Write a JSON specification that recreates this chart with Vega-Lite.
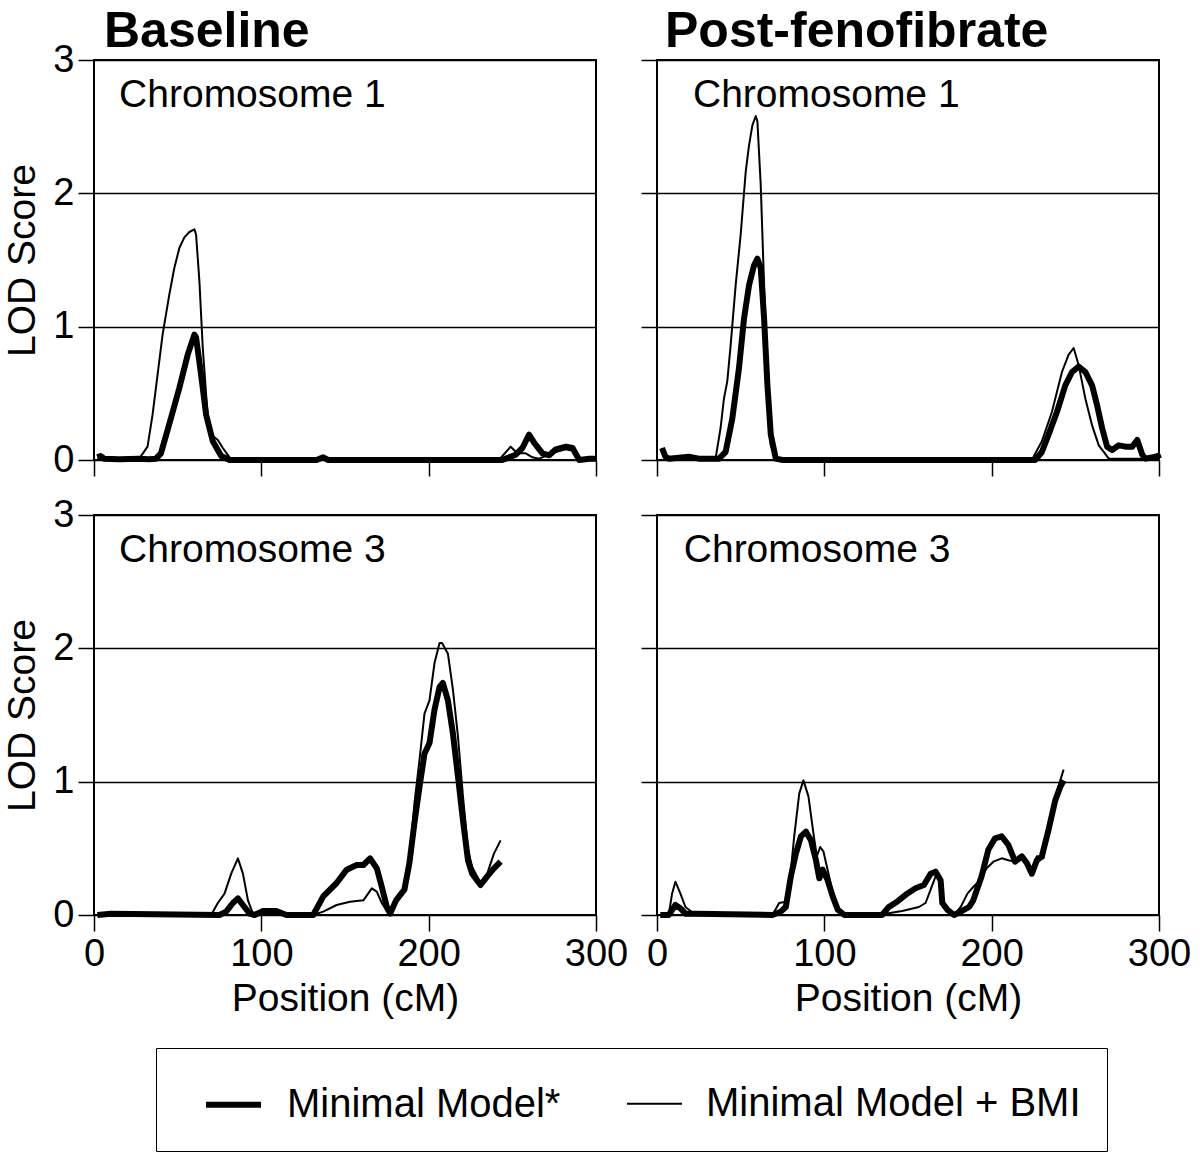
{
  "$schema": "https://vega.github.io/schema/vega-lite/v6.json",
  "background": "white",
  "padding": {"left": 2, "top": 6, "right": 0, "bottom": 0},
  "datasets": {
    "b1": [
      {"model":"Minimal Model*","pos":2,"lod":0.02},{"model":"Minimal Model*","pos":4,"lod":0.03},{"model":"Minimal Model*","pos":6,"lod":0.01},{"model":"Minimal Model*","pos":15,"lod":0.005},{"model":"Minimal Model*","pos":27,"lod":0.01},{"model":"Minimal Model*","pos":33,"lod":0.005},{"model":"Minimal Model*","pos":37,"lod":0.01},{"model":"Minimal Model*","pos":40,"lod":0.05},{"model":"Minimal Model*","pos":45,"lod":0.27},{"model":"Minimal Model*","pos":51,"lod":0.54},{"model":"Minimal Model*","pos":56,"lod":0.79},{"model":"Minimal Model*","pos":60,"lod":0.94},{"model":"Minimal Model*","pos":61,"lod":0.92},{"model":"Minimal Model*","pos":64,"lod":0.64},{"model":"Minimal Model*","pos":67,"lod":0.34},{"model":"Minimal Model*","pos":71,"lod":0.14},{"model":"Minimal Model*","pos":76,"lod":0.03},{"model":"Minimal Model*","pos":81,"lod":0},{"model":"Minimal Model*","pos":133,"lod":0},{"model":"Minimal Model*","pos":137,"lod":0.02},{"model":"Minimal Model*","pos":140,"lod":0},{"model":"Minimal Model*","pos":244,"lod":0},{"model":"Minimal Model*","pos":252,"lod":0.04},{"model":"Minimal Model*","pos":256,"lod":0.09},{"model":"Minimal Model*","pos":260,"lod":0.19},{"model":"Minimal Model*","pos":263,"lod":0.13},{"model":"Minimal Model*","pos":268,"lod":0.05},{"model":"Minimal Model*","pos":272,"lod":0.035},{"model":"Minimal Model*","pos":276,"lod":0.08},{"model":"Minimal Model*","pos":282,"lod":0.1},{"model":"Minimal Model*","pos":286,"lod":0.09},{"model":"Minimal Model*","pos":290,"lod":0},{"model":"Minimal Model*","pos":296,"lod":0.01},{"model":"Minimal Model*","pos":300,"lod":0.01},
      {"model":"Minimal Model + BMI","pos":2,"lod":0.01},{"model":"Minimal Model + BMI","pos":10,"lod":0.01},{"model":"Minimal Model + BMI","pos":27,"lod":0.01},{"model":"Minimal Model + BMI","pos":32,"lod":0.1},{"model":"Minimal Model + BMI","pos":35,"lod":0.34},{"model":"Minimal Model + BMI","pos":38,"lod":0.64},{"model":"Minimal Model + BMI","pos":41,"lod":0.94},{"model":"Minimal Model + BMI","pos":45,"lod":1.24},{"model":"Minimal Model + BMI","pos":48,"lod":1.44},{"model":"Minimal Model + BMI","pos":51,"lod":1.59},{"model":"Minimal Model + BMI","pos":54,"lod":1.67},{"model":"Minimal Model + BMI","pos":57,"lod":1.71},{"model":"Minimal Model + BMI","pos":60,"lod":1.73},{"model":"Minimal Model + BMI","pos":61,"lod":1.69},{"model":"Minimal Model + BMI","pos":63,"lod":1.34},{"model":"Minimal Model + BMI","pos":65,"lod":0.84},{"model":"Minimal Model + BMI","pos":68,"lod":0.32},{"model":"Minimal Model + BMI","pos":71,"lod":0.18},{"model":"Minimal Model + BMI","pos":74,"lod":0.15},{"model":"Minimal Model + BMI","pos":77,"lod":0.09},{"model":"Minimal Model + BMI","pos":81,"lod":0.02},{"model":"Minimal Model + BMI","pos":84,"lod":0},{"model":"Minimal Model + BMI","pos":242,"lod":0},{"model":"Minimal Model + BMI","pos":249,"lod":0.1},{"model":"Minimal Model + BMI","pos":253,"lod":0.05},{"model":"Minimal Model + BMI","pos":258,"lod":0.05},{"model":"Minimal Model + BMI","pos":262,"lod":0.02},{"model":"Minimal Model + BMI","pos":266,"lod":0.01},{"model":"Minimal Model + BMI","pos":276,"lod":0.06},{"model":"Minimal Model + BMI","pos":282,"lod":0.08},{"model":"Minimal Model + BMI","pos":286,"lod":0.07},{"model":"Minimal Model + BMI","pos":290,"lod":0},{"model":"Minimal Model + BMI","pos":300,"lod":0.01}
    ],
    "p1": [
      {"model":"Minimal Model*","pos":3,"lod":0.09},{"model":"Minimal Model*","pos":5,"lod":0.025},{"model":"Minimal Model*","pos":7,"lod":0.01},{"model":"Minimal Model*","pos":19,"lod":0.025},{"model":"Minimal Model*","pos":25,"lod":0.01},{"model":"Minimal Model*","pos":37,"lod":0.01},{"model":"Minimal Model*","pos":41,"lod":0.06},{"model":"Minimal Model*","pos":45,"lod":0.31},{"model":"Minimal Model*","pos":49,"lod":0.69},{"model":"Minimal Model*","pos":52,"lod":1.06},{"model":"Minimal Model*","pos":55,"lod":1.31},{"model":"Minimal Model*","pos":58,"lod":1.46},{"model":"Minimal Model*","pos":60,"lod":1.51},{"model":"Minimal Model*","pos":62,"lod":1.44},{"model":"Minimal Model*","pos":64,"lod":1.06},{"model":"Minimal Model*","pos":66,"lod":0.56},{"model":"Minimal Model*","pos":68,"lod":0.19},{"model":"Minimal Model*","pos":71,"lod":0.01},{"model":"Minimal Model*","pos":75,"lod":0},{"model":"Minimal Model*","pos":226,"lod":0},{"model":"Minimal Model*","pos":230,"lod":0.06},{"model":"Minimal Model*","pos":234,"lod":0.19},{"model":"Minimal Model*","pos":239,"lod":0.36},{"model":"Minimal Model*","pos":244,"lod":0.56},{"model":"Minimal Model*","pos":248,"lod":0.66},{"model":"Minimal Model*","pos":252,"lod":0.7},{"model":"Minimal Model*","pos":256,"lod":0.66},{"model":"Minimal Model*","pos":260,"lod":0.56},{"model":"Minimal Model*","pos":263,"lod":0.41},{"model":"Minimal Model*","pos":266,"lod":0.24},{"model":"Minimal Model*","pos":269,"lod":0.1},{"model":"Minimal Model*","pos":272,"lod":0.075},{"model":"Minimal Model*","pos":276,"lod":0.11},{"model":"Minimal Model*","pos":280,"lod":0.1},{"model":"Minimal Model*","pos":284,"lod":0.1},{"model":"Minimal Model*","pos":287,"lod":0.15},{"model":"Minimal Model*","pos":290,"lod":0.04},{"model":"Minimal Model*","pos":292,"lod":0.01},{"model":"Minimal Model*","pos":298,"lod":0.025},{"model":"Minimal Model*","pos":301,"lod":0.04},
      {"model":"Minimal Model + BMI","pos":3,"lod":0.09},{"model":"Minimal Model + BMI","pos":5,"lod":0.025},{"model":"Minimal Model + BMI","pos":7,"lod":0.01},{"model":"Minimal Model + BMI","pos":19,"lod":0.025},{"model":"Minimal Model + BMI","pos":25,"lod":0.01},{"model":"Minimal Model + BMI","pos":35,"lod":0.01},{"model":"Minimal Model + BMI","pos":38,"lod":0.24},{"model":"Minimal Model + BMI","pos":40,"lod":0.46},{"model":"Minimal Model + BMI","pos":42,"lod":0.59},{"model":"Minimal Model + BMI","pos":44,"lod":0.86},{"model":"Minimal Model + BMI","pos":47,"lod":1.31},{"model":"Minimal Model + BMI","pos":50,"lod":1.69},{"model":"Minimal Model + BMI","pos":53,"lod":2.16},{"model":"Minimal Model + BMI","pos":55,"lod":2.36},{"model":"Minimal Model + BMI","pos":57,"lod":2.51},{"model":"Minimal Model + BMI","pos":59,"lod":2.58},{"model":"Minimal Model + BMI","pos":60,"lod":2.54},{"model":"Minimal Model + BMI","pos":62,"lod":2.06},{"model":"Minimal Model + BMI","pos":64,"lod":1.31},{"model":"Minimal Model + BMI","pos":66,"lod":0.56},{"model":"Minimal Model + BMI","pos":68,"lod":0.11},{"model":"Minimal Model + BMI","pos":71,"lod":0.01},{"model":"Minimal Model + BMI","pos":224,"lod":0},{"model":"Minimal Model + BMI","pos":230,"lod":0.14},{"model":"Minimal Model + BMI","pos":236,"lod":0.36},{"model":"Minimal Model + BMI","pos":242,"lod":0.66},{"model":"Minimal Model + BMI","pos":246,"lod":0.79},{"model":"Minimal Model + BMI","pos":249,"lod":0.84},{"model":"Minimal Model + BMI","pos":252,"lod":0.71},{"model":"Minimal Model + BMI","pos":256,"lod":0.46},{"model":"Minimal Model + BMI","pos":260,"lod":0.26},{"model":"Minimal Model + BMI","pos":264,"lod":0.11},{"model":"Minimal Model + BMI","pos":270,"lod":0.01},{"model":"Minimal Model + BMI","pos":300,"lod":0.01}
    ],
    "b3": [
      {"model":"Minimal Model*","pos":2,"lod":0},{"model":"Minimal Model*","pos":10,"lod":0.01},{"model":"Minimal Model*","pos":75,"lod":0},{"model":"Minimal Model*","pos":79,"lod":0.025},{"model":"Minimal Model*","pos":83,"lod":0.09},{"model":"Minimal Model*","pos":86,"lod":0.125},{"model":"Minimal Model*","pos":89,"lod":0.075},{"model":"Minimal Model*","pos":93,"lod":0.01},{"model":"Minimal Model*","pos":96,"lod":0},{"model":"Minimal Model*","pos":101,"lod":0.03},{"model":"Minimal Model*","pos":109,"lod":0.03},{"model":"Minimal Model*","pos":115,"lod":0},{"model":"Minimal Model*","pos":131,"lod":0},{"model":"Minimal Model*","pos":137,"lod":0.14},{"model":"Minimal Model*","pos":145,"lod":0.24},{"model":"Minimal Model*","pos":151,"lod":0.34},{"model":"Minimal Model*","pos":157,"lod":0.375},{"model":"Minimal Model*","pos":161,"lod":0.375},{"model":"Minimal Model*","pos":165,"lod":0.425},{"model":"Minimal Model*","pos":169,"lod":0.35},{"model":"Minimal Model*","pos":172,"lod":0.21},{"model":"Minimal Model*","pos":175,"lod":0.06},{"model":"Minimal Model*","pos":177,"lod":0.01},{"model":"Minimal Model*","pos":180.5,"lod":0.11},{"model":"Minimal Model*","pos":185.5,"lod":0.19},{"model":"Minimal Model*","pos":188.5,"lod":0.39},{"model":"Minimal Model*","pos":191.5,"lod":0.69},{"model":"Minimal Model*","pos":194.5,"lod":0.96},{"model":"Minimal Model*","pos":197.5,"lod":1.21},{"model":"Minimal Model*","pos":200.5,"lod":1.29},{"model":"Minimal Model*","pos":203.5,"lod":1.54},{"model":"Minimal Model*","pos":206.5,"lod":1.71},{"model":"Minimal Model*","pos":208.5,"lod":1.74},{"model":"Minimal Model*","pos":211.5,"lod":1.61},{"model":"Minimal Model*","pos":214.5,"lod":1.36},{"model":"Minimal Model*","pos":217.5,"lod":1.04},{"model":"Minimal Model*","pos":220.5,"lod":0.71},{"model":"Minimal Model*","pos":223.5,"lod":0.41},{"model":"Minimal Model*","pos":226,"lod":0.31},{"model":"Minimal Model*","pos":231,"lod":0.225},{"model":"Minimal Model*","pos":235,"lod":0.29},{"model":"Minimal Model*","pos":239,"lod":0.35},{"model":"Minimal Model*","pos":243,"lod":0.4},
      {"model":"Minimal Model + BMI","pos":2,"lod":0},{"model":"Minimal Model + BMI","pos":70,"lod":0},{"model":"Minimal Model + BMI","pos":74,"lod":0.09},{"model":"Minimal Model + BMI","pos":78,"lod":0.16},{"model":"Minimal Model + BMI","pos":82,"lod":0.31},{"model":"Minimal Model + BMI","pos":86,"lod":0.425},{"model":"Minimal Model + BMI","pos":89,"lod":0.31},{"model":"Minimal Model + BMI","pos":92,"lod":0.11},{"model":"Minimal Model + BMI","pos":95,"lod":0.01},{"model":"Minimal Model + BMI","pos":101,"lod":0.03},{"model":"Minimal Model + BMI","pos":109,"lod":0.03},{"model":"Minimal Model + BMI","pos":115,"lod":0},{"model":"Minimal Model + BMI","pos":131,"lod":0},{"model":"Minimal Model + BMI","pos":137,"lod":0.025},{"model":"Minimal Model + BMI","pos":145,"lod":0.075},{"model":"Minimal Model + BMI","pos":153,"lod":0.1},{"model":"Minimal Model + BMI","pos":161,"lod":0.11},{"model":"Minimal Model + BMI","pos":166,"lod":0.2},{"model":"Minimal Model + BMI","pos":169,"lod":0.175},{"model":"Minimal Model + BMI","pos":172,"lod":0.09},{"model":"Minimal Model + BMI","pos":176,"lod":0.01},{"model":"Minimal Model + BMI","pos":180.5,"lod":0.1},{"model":"Minimal Model + BMI","pos":185.5,"lod":0.19},{"model":"Minimal Model + BMI","pos":188.5,"lod":0.41},{"model":"Minimal Model + BMI","pos":191.5,"lod":0.84},{"model":"Minimal Model + BMI","pos":194.5,"lod":1.16},{"model":"Minimal Model + BMI","pos":197.5,"lod":1.51},{"model":"Minimal Model + BMI","pos":200.5,"lod":1.61},{"model":"Minimal Model + BMI","pos":203.5,"lod":1.89},{"model":"Minimal Model + BMI","pos":206.5,"lod":2.04},{"model":"Minimal Model + BMI","pos":208,"lod":2.04},{"model":"Minimal Model + BMI","pos":211.5,"lod":1.96},{"model":"Minimal Model + BMI","pos":214.5,"lod":1.69},{"model":"Minimal Model + BMI","pos":217.5,"lod":1.34},{"model":"Minimal Model + BMI","pos":220.5,"lod":0.89},{"model":"Minimal Model + BMI","pos":223.5,"lod":0.49},{"model":"Minimal Model + BMI","pos":226,"lod":0.36},{"model":"Minimal Model + BMI","pos":231,"lod":0.24},{"model":"Minimal Model + BMI","pos":235,"lod":0.31},{"model":"Minimal Model + BMI","pos":239,"lod":0.46},{"model":"Minimal Model + BMI","pos":243,"lod":0.56}
    ],
    "p3": [
      {"model":"Minimal Model*","pos":2,"lod":0},{"model":"Minimal Model*","pos":7,"lod":0},{"model":"Minimal Model*","pos":11,"lod":0.075},{"model":"Minimal Model*","pos":14,"lod":0.05},{"model":"Minimal Model*","pos":17,"lod":0.01},{"model":"Minimal Model*","pos":23,"lod":0.01},{"model":"Minimal Model*","pos":69,"lod":0},{"model":"Minimal Model*","pos":74,"lod":0.025},{"model":"Minimal Model*","pos":77,"lod":0.06},{"model":"Minimal Model*","pos":80,"lod":0.29},{"model":"Minimal Model*","pos":83,"lod":0.46},{"model":"Minimal Model*","pos":86,"lod":0.59},{"model":"Minimal Model*","pos":89,"lod":0.625},{"model":"Minimal Model*","pos":92,"lod":0.56},{"model":"Minimal Model*","pos":95,"lod":0.41},{"model":"Minimal Model*","pos":97,"lod":0.275},{"model":"Minimal Model*","pos":99,"lod":0.34},{"model":"Minimal Model*","pos":102,"lod":0.26},{"model":"Minimal Model*","pos":105,"lod":0.14},{"model":"Minimal Model*","pos":108,"lod":0.04},{"model":"Minimal Model*","pos":112,"lod":0},{"model":"Minimal Model*","pos":134.5,"lod":0},{"model":"Minimal Model*","pos":138.5,"lod":0.06},{"model":"Minimal Model*","pos":143.5,"lod":0.1},{"model":"Minimal Model*","pos":149.5,"lod":0.16},{"model":"Minimal Model*","pos":154.5,"lod":0.2},{"model":"Minimal Model*","pos":159.5,"lod":0.225},{"model":"Minimal Model*","pos":163.5,"lod":0.31},{"model":"Minimal Model*","pos":166.5,"lod":0.325},{"model":"Minimal Model*","pos":169.5,"lod":0.26},{"model":"Minimal Model*","pos":170.5,"lod":0.09},{"model":"Minimal Model*","pos":173.5,"lod":0.04},{"model":"Minimal Model*","pos":177.5,"lod":0},{"model":"Minimal Model*","pos":181.5,"lod":0.025},{"model":"Minimal Model*","pos":186.5,"lod":0.06},{"model":"Minimal Model*","pos":189,"lod":0.11},{"model":"Minimal Model*","pos":194,"lod":0.29},{"model":"Minimal Model*","pos":198,"lod":0.49},{"model":"Minimal Model*","pos":202,"lod":0.575},{"model":"Minimal Model*","pos":206,"lod":0.59},{"model":"Minimal Model*","pos":210,"lod":0.525},{"model":"Minimal Model*","pos":214,"lod":0.4},{"model":"Minimal Model*","pos":218,"lod":0.44},{"model":"Minimal Model*","pos":221,"lod":0.39},{"model":"Minimal Model*","pos":224,"lod":0.31},{"model":"Minimal Model*","pos":227,"lod":0.41},{"model":"Minimal Model*","pos":230,"lod":0.44},{"model":"Minimal Model*","pos":234,"lod":0.64},{"model":"Minimal Model*","pos":238,"lod":0.86},{"model":"Minimal Model*","pos":241,"lod":0.96},{"model":"Minimal Model*","pos":243,"lod":1.01},
      {"model":"Minimal Model + BMI","pos":7,"lod":0},{"model":"Minimal Model + BMI","pos":9,"lod":0.16},{"model":"Minimal Model + BMI","pos":11,"lod":0.25},{"model":"Minimal Model + BMI","pos":14,"lod":0.16},{"model":"Minimal Model + BMI","pos":17,"lod":0.06},{"model":"Minimal Model + BMI","pos":21,"lod":0.02},{"model":"Minimal Model + BMI","pos":25,"lod":0},{"model":"Minimal Model + BMI","pos":69,"lod":0},{"model":"Minimal Model + BMI","pos":73,"lod":0.09},{"model":"Minimal Model + BMI","pos":77,"lod":0.1},{"model":"Minimal Model + BMI","pos":79,"lod":0.21},{"model":"Minimal Model + BMI","pos":82,"lod":0.59},{"model":"Minimal Model + BMI","pos":85,"lod":0.91},{"model":"Minimal Model + BMI","pos":87.5,"lod":1.01},{"model":"Minimal Model + BMI","pos":90.5,"lod":0.89},{"model":"Minimal Model + BMI","pos":93.5,"lod":0.61},{"model":"Minimal Model + BMI","pos":95.5,"lod":0.44},{"model":"Minimal Model + BMI","pos":97.5,"lod":0.51},{"model":"Minimal Model + BMI","pos":99.5,"lod":0.475},{"model":"Minimal Model + BMI","pos":102.5,"lod":0.31},{"model":"Minimal Model + BMI","pos":105.5,"lod":0.14},{"model":"Minimal Model + BMI","pos":108.5,"lod":0.025},{"model":"Minimal Model + BMI","pos":111.5,"lod":0},{"model":"Minimal Model + BMI","pos":136.5,"lod":0.01},{"model":"Minimal Model + BMI","pos":146.5,"lod":0.03},{"model":"Minimal Model + BMI","pos":156.5,"lod":0.06},{"model":"Minimal Model + BMI","pos":160.5,"lod":0.09},{"model":"Minimal Model + BMI","pos":163.5,"lod":0.19},{"model":"Minimal Model + BMI","pos":166.5,"lod":0.29},{"model":"Minimal Model + BMI","pos":168.5,"lod":0.29},{"model":"Minimal Model + BMI","pos":170.5,"lod":0.09},{"model":"Minimal Model + BMI","pos":173.5,"lod":0.025},{"model":"Minimal Model + BMI","pos":177.5,"lod":0},{"model":"Minimal Model + BMI","pos":181.5,"lod":0.06},{"model":"Minimal Model + BMI","pos":185.5,"lod":0.16},{"model":"Minimal Model + BMI","pos":189,"lod":0.21},{"model":"Minimal Model + BMI","pos":193,"lod":0.26},{"model":"Minimal Model + BMI","pos":197,"lod":0.35},{"model":"Minimal Model + BMI","pos":201,"lod":0.4},{"model":"Minimal Model + BMI","pos":206,"lod":0.425},{"model":"Minimal Model + BMI","pos":210,"lod":0.41},{"model":"Minimal Model + BMI","pos":214,"lod":0.4},{"model":"Minimal Model + BMI","pos":218,"lod":0.44},{"model":"Minimal Model + BMI","pos":221,"lod":0.39},{"model":"Minimal Model + BMI","pos":224,"lod":0.34},{"model":"Minimal Model + BMI","pos":227,"lod":0.44},{"model":"Minimal Model + BMI","pos":231,"lod":0.425},{"model":"Minimal Model + BMI","pos":234,"lod":0.66},{"model":"Minimal Model + BMI","pos":238,"lod":0.89},{"model":"Minimal Model + BMI","pos":241,"lod":1.01},{"model":"Minimal Model + BMI","pos":243,"lod":1.09}
    ],
    "labels": [
      {"panel":"b1","label":"Chromosome 1","pos":15,"lod":2.74},
      {"panel":"p1","label":"Chromosome 1","pos":21.5,"lod":2.74},
      {"panel":"b3","label":"Chromosome 3","pos":15,"lod":2.74},
      {"panel":"p3","label":"Chromosome 3","pos":16,"lod":2.74}
    ]
  },
  "bounds": "flush",
  "columns": 2,
  "spacing": {"row": 55, "column": 61},
  "concat": [
    {
      "width": 502, "height": 400,
      "title": {"text": "Baseline", "anchor": "start", "frame": "group", "fontSize": 50, "fontWeight": "bold", "dx": 10, "offset": -16, "color": "black"},
      "layer": [
        {
          "data": {"name": "b1"},
          "mark": {"type": "line", "color": "black", "strokeJoin": "round"},
          "encoding": {
            "x": {"field": "pos", "type": "quantitative", "scale": {"domain": [0, 300], "nice": false}, "axis": {"values": [0, 100, 200, 300], "labels": false, "title": null}},
            "y": {"field": "lod", "type": "quantitative", "scale": {"domain": [0, 3], "nice": false}, "axis": {"values": [0, 1, 2, 3], "format": "d", "title": "LOD Score"}},
            "strokeWidth": {"field": "model", "type": "nominal", "scale": {"domain": ["Minimal Model*", "Minimal Model + BMI"], "range": [6, 2]}, "legend": {"title": null}}
          }
        },
        {
          "data": {"name": "labels"},
          "transform": [{"filter": "datum.panel == 'b1'"}],
          "mark": {"type": "text", "align": "left", "baseline": "middle", "fontSize": 39, "color": "black"},
          "encoding": {
            "x": {"field": "pos", "type": "quantitative"},
            "y": {"field": "lod", "type": "quantitative"},
            "text": {"field": "label"}
          }
        }
      ]
    },
    {
      "width": 502, "height": 400,
      "title": {"text": "Post-fenofibrate", "anchor": "start", "frame": "group", "fontSize": 50, "fontWeight": "bold", "dx": 8, "offset": 2, "color": "black"},
      "layer": [
        {
          "data": {"name": "p1"},
          "mark": {"type": "line", "color": "black", "strokeJoin": "round"},
          "encoding": {
            "x": {"field": "pos", "type": "quantitative", "scale": {"domain": [0, 300], "nice": false}, "axis": {"values": [0, 100, 200, 300], "labels": false, "title": null}},
            "y": {"field": "lod", "type": "quantitative", "scale": {"domain": [0, 3], "nice": false}, "axis": {"values": [0, 1, 2, 3], "labels": false, "title": null}},
            "strokeWidth": {"field": "model", "type": "nominal", "scale": {"domain": ["Minimal Model*", "Minimal Model + BMI"], "range": [6, 2]}, "legend": {"title": null}}
          }
        },
        {
          "data": {"name": "labels"},
          "transform": [{"filter": "datum.panel == 'p1'"}],
          "mark": {"type": "text", "align": "left", "baseline": "middle", "fontSize": 39, "color": "black"},
          "encoding": {
            "x": {"field": "pos", "type": "quantitative"},
            "y": {"field": "lod", "type": "quantitative"},
            "text": {"field": "label"}
          }
        }
      ]
    },
    {
      "width": 502, "height": 400,
      "layer": [
        {
          "data": {"name": "b3"},
          "mark": {"type": "line", "color": "black", "strokeJoin": "round"},
          "encoding": {
            "x": {"field": "pos", "type": "quantitative", "scale": {"domain": [0, 300], "nice": false}, "axis": {"values": [0, 100, 200, 300], "title": "Position (cM)"}},
            "y": {"field": "lod", "type": "quantitative", "scale": {"domain": [0, 3], "nice": false}, "axis": {"values": [0, 1, 2, 3], "format": "d", "title": "LOD Score"}},
            "strokeWidth": {"field": "model", "type": "nominal", "scale": {"domain": ["Minimal Model*", "Minimal Model + BMI"], "range": [6, 2]}, "legend": {"title": null}}
          }
        },
        {
          "data": {"name": "labels"},
          "transform": [{"filter": "datum.panel == 'b3'"}],
          "mark": {"type": "text", "align": "left", "baseline": "middle", "fontSize": 39, "color": "black"},
          "encoding": {
            "x": {"field": "pos", "type": "quantitative"},
            "y": {"field": "lod", "type": "quantitative"},
            "text": {"field": "label"}
          }
        }
      ]
    },
    {
      "width": 502, "height": 400,
      "layer": [
        {
          "data": {"name": "p3"},
          "mark": {"type": "line", "color": "black", "strokeJoin": "round"},
          "encoding": {
            "x": {"field": "pos", "type": "quantitative", "scale": {"domain": [0, 300], "nice": false}, "axis": {"values": [0, 100, 200, 300], "title": "Position (cM)"}},
            "y": {"field": "lod", "type": "quantitative", "scale": {"domain": [0, 3], "nice": false}, "axis": {"values": [0, 1, 2, 3], "labels": false, "title": null}},
            "strokeWidth": {"field": "model", "type": "nominal", "scale": {"domain": ["Minimal Model*", "Minimal Model + BMI"], "range": [6, 2]}, "legend": {"title": null}}
          }
        },
        {
          "data": {"name": "labels"},
          "transform": [{"filter": "datum.panel == 'p3'"}],
          "mark": {"type": "text", "align": "left", "baseline": "middle", "fontSize": 39, "color": "black"},
          "encoding": {
            "x": {"field": "pos", "type": "quantitative"},
            "y": {"field": "lod", "type": "quantitative"},
            "text": {"field": "label"}
          }
        }
      ]
    }
  ],
  "resolve": {"scale": {"strokeWidth": "shared"}, "legend": {"strokeWidth": "shared"}},
  "config": {
    "font": "Liberation Sans",
    "view": {"stroke": "black", "strokeWidth": 2},
    "title": {"font": "Liberation Sans", "color": "black"},
    "text": {"font": "Liberation Sans"},
    "axis": {
      "domain": false,
      "grid": false,
      "ticks": true,
      "tickColor": "black",
      "tickWidth": 1.5,
      "tickSize": 16,
      "labelFont": "Liberation Sans",
      "labelFontSize": 38,
      "labelColor": "black",
      "labelPadding": 4,
      "titleFont": "Liberation Sans",
      "titleFontSize": 39,
      "titleFontWeight": "normal",
      "titleColor": "black"
    },
    "axisY": {"grid": true, "gridColor": "black", "gridWidth": 1.5, "titlePadding": 10},
    "axisX": {"titlePadding": 6, "labelFlush": false},
    "legend": {
      "orient": "none",
      "legendX": 62,
      "legendY": 988,
      "direction": "horizontal",
      "strokeColor": "black",
      "padding": 26,
      "symbolType": "stroke",
      "symbolSize": 3025,
      "symbolStrokeColor": "black",
      "symbolOffset": 21,
      "labelFont": "Liberation Sans",
      "labelFontSize": 40,
      "labelColor": "black",
      "labelOffset": 23,
      "labelLimit": 0,
      "columnPadding": 44
    }
  }
}
